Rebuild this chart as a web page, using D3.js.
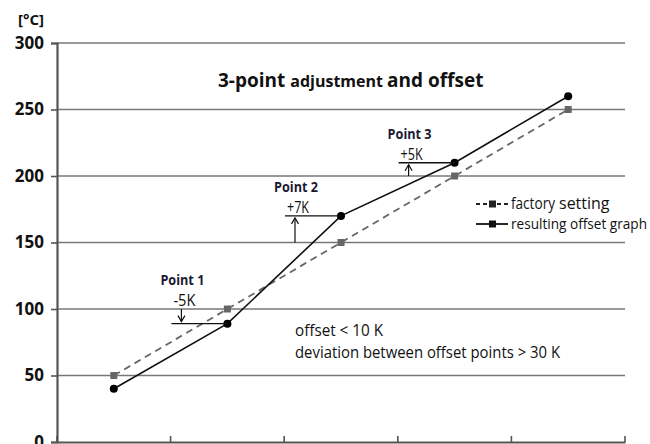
<!DOCTYPE html>
<html>
<head>
<meta charset="utf-8">
<script src="https://cdn.jsdelivr.net/npm/d3@7"></script>
<style>
body { margin: 0; background: #fff; }
svg { display: block; }
.cond { font-family: "Open Sans", "Noto Sans", sans-serif; }
.bold { font-family: "Open Sans", "Noto Sans", sans-serif; font-weight: bold; }
</style>
</head>
<body>
<svg id="chart" width="650" height="444"></svg>
<script>
const categories = ["p1", "p2", "p3", "p4", "p5"];
const factory = [50, 100, 150, 200, 250];
const resulting = [40, 89, 170, 210, 260];
const yTicks = [0, 50, 100, 150, 200, 250, 300];
const notes = [
	{ i: 1, name: "Point 1", off: "-5K" },
	{ i: 2, name: "Point 2", off: "+7K" },
	{ i: 3, name: "Point 3", off: "+5K" }
];

const chart = d3.select("#chart");
const margin = { left: 57, right: 25, top: 43, bottom: 2 };
const width = 650, height = 444;

let x = d3.scaleBand()
	.domain(categories)
	.range([margin.left, width - margin.right]);
let y = d3.scaleLinear()
	.domain([0, 300])
	.range([height - margin.bottom, margin.top]);
let cx = (i) => x(categories[i]) + x.bandwidth() / 2;

// squeeze a text to a given width (narrow font look)
const squeeze = (sel, w) => sel.attr("textLength", w).attr("lengthAdjust", "spacingAndGlyphs");

// grid lines
chart.append("g").selectAll("line")
	.data(yTicks.filter(d => d > 0))
	.enter().append("line")
	.attr("x1", margin.left).attr("x2", width - margin.right)
	.attr("y1", d => y(d)).attr("y2", d => y(d))
	.attr("stroke", "#777").attr("stroke-width", 1.6);

// y axis
let yAxis = chart.append("g")
	.attr("transform", `translate(${margin.left},0)`)
	.call(d3.axisLeft(y).tickValues(yTicks).tickSize(6).tickPadding(7));
yAxis.select(".domain").attr("stroke", "#555").attr("stroke-width", 2.2);
yAxis.selectAll(".tick line").attr("stroke", "#555").attr("stroke-width", 1.6);
yAxis.selectAll("text").attr("class", "bold").style("font-size", "17px").attr("fill", "#111");

// x axis
let xAxis = chart.append("g")
	.attr("transform", `translate(0,${y(0)})`)
	.call(d3.axisTop(x).tickValues([]).tickSizeOuter(0));
xAxis.select(".domain").attr("stroke", "#555").attr("stroke-width", 2.2);
chart.append("g").selectAll("line")
	.data(d3.range(categories.length + 1))
	.enter().append("line")
	.attr("x1", i => margin.left + i * x.bandwidth())
	.attr("x2", i => margin.left + i * x.bandwidth())
	.attr("y1", y(0)).attr("y2", y(0) - 6)
	.attr("stroke", "#555").attr("stroke-width", 1.6);

chart.append("text").attr("class", "bold")
	.attr("x", 44).attr("y", 25).attr("text-anchor", "end")
	.style("font-size", "15px").attr("fill", "#111").text("[°C]");

// title
let title = chart.append("text").attr("class", "bold")
	.attr("x", 218).attr("y", 87).attr("fill", "#111");
title.append("tspan").style("font-size", "19px").text("3-point ");
title.append("tspan").style("font-size", "16px").text("adjustment ");
title.append("tspan").style("font-size", "19px").text("and offset");

// lines
let line = d3.line().x((d, i) => cx(i)).y(d => y(d));
chart.append("path").datum(factory)
	.attr("d", line).attr("fill", "none")
	.attr("stroke", "#666").attr("stroke-width", 1.8)
	.attr("stroke-dasharray", "7,5");
chart.append("g").selectAll("rect")
	.data(factory).enter().append("rect")
	.attr("x", (d, i) => cx(i) - 3.5).attr("y", d => y(d) - 3.5)
	.attr("width", 7).attr("height", 7).attr("fill", "#666");

chart.append("path").datum(resulting)
	.attr("d", line).attr("fill", "none")
	.attr("stroke", "#111").attr("stroke-width", 1.6);
chart.append("g").selectAll("circle")
	.data(resulting).enter().append("circle")
	.attr("cx", (d, i) => cx(i)).attr("cy", d => y(d))
	.attr("r", 4).attr("fill", "#000");

// point annotations
let ann = chart.append("g").selectAll("g").data(notes).enter().append("g");
ann.each(function (d) {
	let g = d3.select(this);
	let px = cx(d.i);
	let ry = y(resulting[d.i]);
	let fy = y(factory[d.i]);
	let lx = px - 56;
	let ax = lx + 10;
	g.append("line").attr("x1", lx).attr("x2", px).attr("y1", ry).attr("y2", ry)
		.attr("stroke", "#111").attr("stroke-width", 1.4);
	let dir = ry < fy ? 1 : -1;
	let tip = ry + dir * 2;
	g.append("line").attr("x1", ax).attr("x2", ax).attr("y1", fy).attr("y2", tip)
		.attr("stroke", "#111").attr("stroke-width", 1.2);
	g.append("path")
		.attr("d", `M${ax - 3.5},${tip + dir * 6}L${ax},${tip}L${ax + 3.5},${tip + dir * 6}`)
		.attr("fill", "none").attr("stroke", "#111").attr("stroke-width", 1.2);
	let top = Math.min(ry, fy);
	squeeze(g.append("text").attr("class", "bold")
		.attr("x", lx - 11).attr("y", top - 24)
		.style("font-size", "14px").attr("fill", "#1a1a33").text(d.name), 44);
	squeeze(g.append("text").attr("class", "cond")
		.attr("x", lx + 2).attr("y", top - 3)
		.style("font-size", "16px").attr("fill", "#111").text(d.off), 22);
});

// notes text
squeeze(chart.append("text").attr("class", "cond")
	.attr("x", 295).attr("y", 336).style("font-size", "16px").attr("fill", "#111")
	.text("offset < 10 K"), 88);
squeeze(chart.append("text").attr("class", "cond")
	.attr("x", 295).attr("y", 358).style("font-size", "16px").attr("fill", "#111")
	.text("deviation between offset points > 30 K"), 265);

// legend
let legend = chart.append("g");
legend.append("line").attr("x1", 476).attr("x2", 508).attr("y1", 204).attr("y2", 204)
	.attr("stroke", "#222").attr("stroke-width", 1.8).attr("stroke-dasharray", "4,3");
legend.append("rect").attr("x", 489).attr("y", 200.5).attr("width", 7).attr("height", 7).attr("fill", "#222");
legend.append("line").attr("x1", 476).attr("x2", 508).attr("y1", 224).attr("y2", 224)
	.attr("stroke", "#111").attr("stroke-width", 1.8);
legend.append("rect").attr("x", 489).attr("y", 220.5).attr("width", 7).attr("height", 7).attr("fill", "#111");
squeeze(legend.append("text").attr("class", "cond").attr("x", 511).attr("y", 209)
	.style("font-size", "16px").attr("fill", "#111").text("factory"), 44);
legend.append("text").attr("class", "cond").attr("x", 559).attr("y", 209)
	.style("font-size", "16px").attr("fill", "#111").text("setting");
squeeze(legend.append("text").attr("class", "cond").attr("x", 511).attr("y", 229)
	.style("font-size", "15px").attr("fill", "#111").text("resulting offset graph"), 136);
</script>
</body>
</html>
